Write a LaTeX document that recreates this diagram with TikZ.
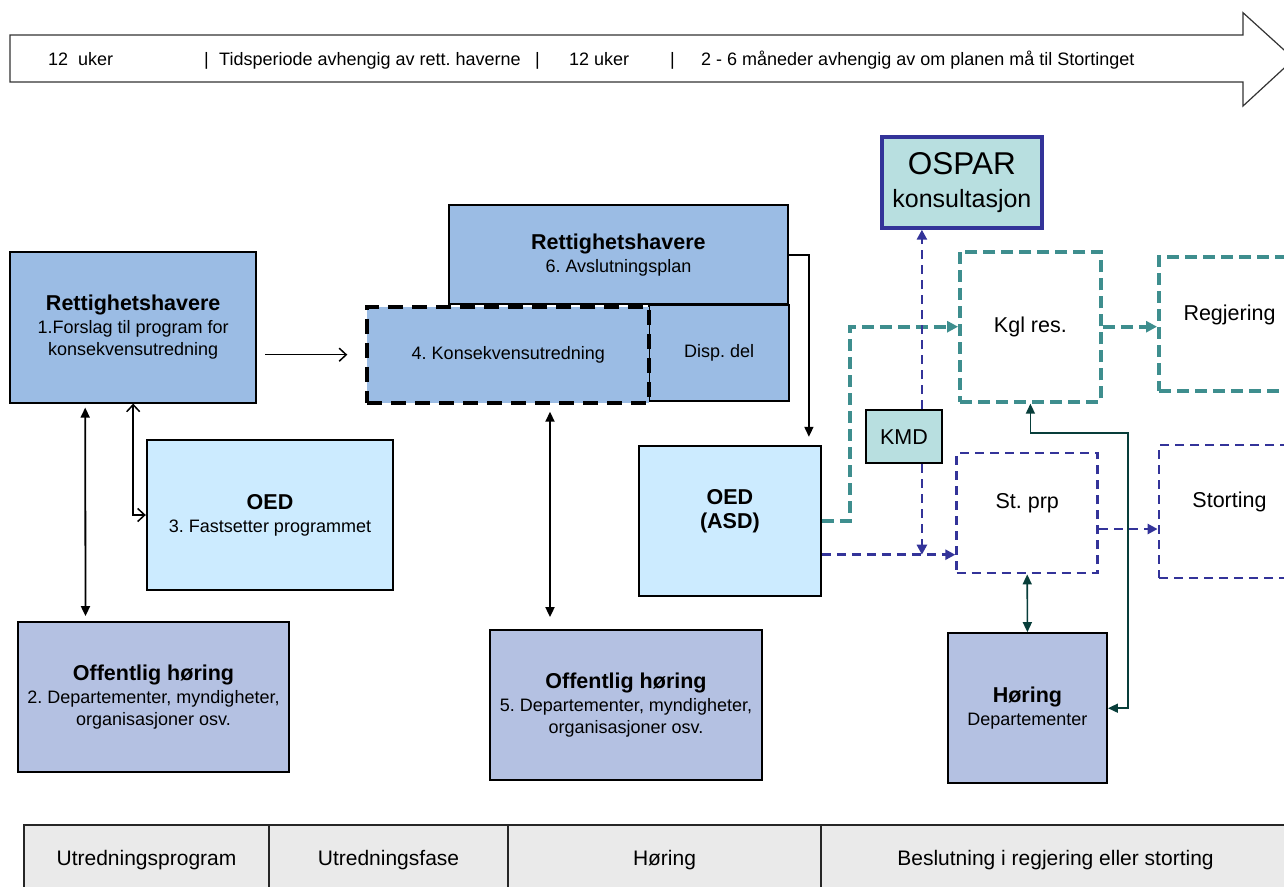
\documentclass[tikz,border=0pt]{standalone}
\usepackage{fontspec}
\setmainfont{Liberation Sans}
\usetikzlibrary{arrows.meta}
\definecolor{rhblue}{RGB}{155,188,228}
\definecolor{oedblue}{RGB}{204,235,255}
\definecolor{offblue}{RGB}{180,193,226}
\definecolor{ospfill}{RGB}{184,223,224}
\definecolor{tealline}{RGB}{62,142,142}
\definecolor{darkblue}{RGB}{51,51,153}
\definecolor{darkgreen}{RGB}{8,62,58}
\definecolor{cellgrey}{RGB}{234,234,234}
\newcommand{\boxhead}[1]{{\fontsize{21.5}{24}\selectfont\bfseries #1}}
\frenchspacing
\begin{document}
\begin{tikzpicture}[x=1pt,y=-1pt,
  box/.style={draw,line width=1.8pt,align=center,inner sep=0pt,font=\fontsize{18}{22}\selectfont},
  rh/.style={box,fill=rhblue},
  oed/.style={box,fill=oedblue},
  off/.style={box,fill=offblue},
  tealbox/.style={draw=tealline,line width=4pt,dash pattern=on 12pt off 6pt,inner sep=0pt,font=\fontsize{21.5}{24}\selectfont},
  bluebox/.style={draw=darkblue,line width=2.8pt,dash pattern=on 9pt off 6pt,inner sep=0pt,font=\fontsize{21.5}{24}\selectfont},
  cell/.style={draw=black!85,line width=1.2pt,fill=cellgrey,minimum height=70pt,font=\fontsize{21}{24}\selectfont},
  tl/.style={anchor=base west,inner sep=0pt,font=\fontsize{18}{22}\selectfont},
  openarr/.style={line width=1.5pt,-{Straight Barb[length=7pt,width=13pt]}},
  opendbl/.style={line width=1.5pt,{Straight Barb[length=7pt,width=13pt]}-{Straight Barb[length=7pt,width=13pt]}},
  arr/.style={line width=1.6pt,-{Triangle[length=10pt,width=9pt]}},
  dbl/.style={line width=1.8pt,{Triangle[length=10pt,width=9pt]}-{Triangle[length=10pt,width=9pt]}},
  tealarr/.style={draw=tealline,line width=4pt,dash pattern=on 12pt off 6pt,-{Triangle[length=11pt,width=11pt]},tealline},
  bluearr/.style={draw=darkblue,line width=2.8pt,dash pattern=on 9pt off 6pt,-{Triangle[length=10pt,width=10pt]},darkblue},
  greenarr/.style={draw=darkgreen,line width=1.6pt,{Triangle[length=10pt,width=9pt]}-{Triangle[length=10pt,width=9pt]},darkgreen}]
\useasboundingbox (0,0) rectangle (1284,886);
\fill[white] (0,0) rectangle (1284,886);
\draw[line width=1.2pt,draw=black!80,fill=white] (10,35) -- (1243,35) -- (1243,12.7) -- (1294,59) -- (1243,106) -- (1243,82) -- (10,82) -- cycle;
\foreach \x/\txt [count=\i] in {48/{12\ \ uker},204/|,219/{Tidsperiode avhengig av rett. haverne},535/|,569/{12 uker},670/|,701/{2 - 6 måneder avhengig av om planen må til Stortinget}}
  \node[tl] (tl\i) at (\x,65.5) {\txt};

\node[rh,minimum width=246.3pt,minimum height=150.4pt] (ret1) at (133.2,327.5) {\boxhead{Rettighetshavere}\\[1pt]1.Forslag til program for\\konsekvensutredning};
\node[oed,minimum width=246.6pt,minimum height=150pt] (oed1) at (270,515) {\boxhead{OED}\\[1pt]3. Fastsetter programmet};
\node[off,minimum width=271pt,minimum height=150pt] (off1) at (153.5,697) {\boxhead{Offentlig høring}\\[1pt]2. Departementer, myndigheter,\\organisasjoner osv.};
\node[rh,minimum width=338.7pt,minimum height=99pt] (ret6) at (618.4,254.8) {\boxhead{Rettighetshavere}\\[1pt]6. Avslutningsplan};
\node[rh,minimum width=139.7pt,minimum height=96pt] (disp) at (719.2,353.3) {Disp. del};
\node[rh,line width=4pt,dash pattern=on 15pt off 9pt,minimum width=282pt,minimum height=96pt] (kons) at (508.3,354.7) {4. Konsekvensutredning};
\node[off,minimum width=272pt,minimum height=150pt] (off5) at (626,705) {\boxhead{Offentlig høring}\\[1pt]5. Departementer, myndigheter,\\organisasjoner osv.};
\node[oed,minimum width=182.3pt,minimum height=150pt,text depth=24pt] (oedasd) at (729.9,520.7) {\boxhead{OED}\\[2pt]\boxhead{(ASD)}};

\node[box,fill=ospfill,draw=darkblue,line width=4pt,minimum width=159.7pt,minimum height=91pt,font=\fontsize{25}{30}\selectfont] (ospar) at (961.9,182.2) {{\fontsize{31.5}{34}\selectfont OSPAR}\\[3pt]konsultasjon};
\node[tealbox,minimum width=140.7pt,minimum height=150pt] (kgl) at (1030.4,326.7) {Kgl res.};
\node[tealbox,minimum width=141pt,minimum height=133.7pt,text depth=23pt] (regj) at (1229.5,323.9) {Regjering};
\node[box,fill=ospfill,minimum width=75.7pt,minimum height=53.3pt,font=\fontsize{21.5}{24}\selectfont] (kmd) at (903.9,436.7) {KMD};
\node[bluebox,minimum width=141pt,minimum height=120pt,text depth=24pt] (stprp) at (1027.2,513) {St. prp};
\node[bluebox,minimum width=141pt,minimum height=133pt,text depth=24pt] (storting) at (1229.5,511.5) {Storting};
\node[off,minimum width=159.3pt,minimum height=150.3pt] (hoering) at (1027.4,708.2) {\boxhead{Høring}\\[1pt]Departementer};

\draw[openarr] ([xshift=8pt]ret1.east |- kons.west) -- ([xshift=-18pt]kons.west);
\draw[opendbl] (ret1.south) |- (oed1.west);
\draw[dbl] ([xshift=-48pt,yshift=-4pt]ret1.south) -- ([xshift=-68pt,yshift=5pt]off1.north);
\draw[dbl] ([xshift=41.7pt,yshift=-7pt]kons.south) -- ([xshift=-76pt,yshift=12pt]off5.north);
\draw[arr] (ret6.east) -| ([xshift=79pt,yshift=8pt]oedasd.north);

\draw[tealarr] (oedasd.east) -- ++(28,0) |- (kgl.west);
\draw[tealarr] (kgl.east) -- (kgl.east -| regj.west);
\coordinate (stin) at ([yshift=-34pt]oedasd.east);
\draw[bluearr] (stin) -- (stin -| stprp.west);
\draw[bluearr] ([xshift=18pt]kmd.north) -- ([xshift=18pt]kmd.north |- ospar.south);
\draw[bluearr] ([xshift=18pt]kmd.south) -- ([xshift=18pt]kmd.south |- stin);
\draw[bluearr] ([yshift=-16pt]stprp.east) -- ([yshift=-16pt]stprp.east -| storting.west);
\draw[greenarr] (stprp.south) -- (hoering.north);
\draw[greenarr] (hoering.east) -- ++(20,0) |- ([yshift=-29pt]kgl.south) -- (kgl.south);

\node[cell,minimum width=245pt] (c1) at (146.5,860) {Utredningsprogram};
\node[cell,minimum width=239pt] (c2) at (388.5,860) {Utredningsfase};
\node[cell,minimum width=313pt] (c3) at (664.5,860) {Høring};
\node[cell,minimum width=469pt] (c4) at (1055.5,860) {Beslutning i regjering eller storting};
\end{tikzpicture}
\end{document}
